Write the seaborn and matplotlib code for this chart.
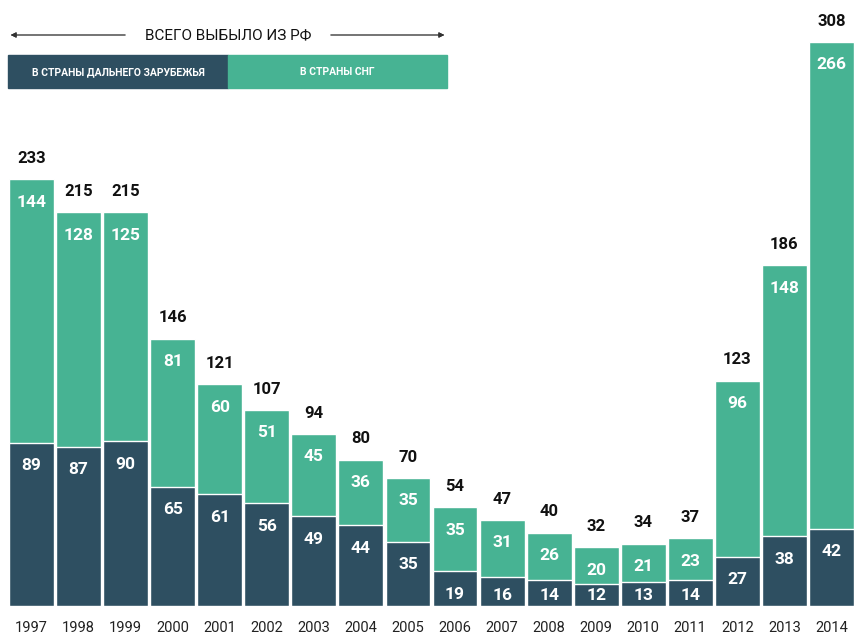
import seaborn as sns
import matplotlib.pyplot as plt
import pandas as pd
from matplotlib.patches import Rectangle

years = ['1997', '1998', '1999', '2000', '2001', '2002', '2003', '2004', '2005',
         '2006', '2007', '2008', '2009', '2010', '2011', '2012', '2013', '2014']
far_abroad = [89, 87, 90, 65, 61, 56, 49, 44, 35, 19, 16, 14, 12, 13, 14, 27, 38, 42]
cis = [144, 128, 125, 81, 60, 51, 45, 36, 35, 35, 31, 26, 20, 21, 23, 96, 148, 266]
totals = [233, 215, 215, 146, 121, 107, 94, 80, 70, 54, 47, 40, 32, 34, 37, 123, 186, 308]

dark = '#2e4f61'
green = '#47b393'

sns.set_theme(style='white')
plt.rcParams['font.family'] = ['Roboto', 'DejaVu Sans']

df = pd.DataFrame({'year': years, 'far': far_abroad, 'cis': cis, 'total': totals})
df['stack'] = df['far'] + df['cis']

fig = plt.figure(figsize=(8.55, 6.37), dpi=100)
ax = fig.add_axes([8 / 855, 31 / 637, 847 / 855, 606 / 637])

# stacked bars: full height in green, far-abroad part on top in dark
sns.barplot(data=df, x='year', y='stack', color=green, saturation=1, width=0.955, ax=ax)
sns.barplot(data=df, x='year', y='far', color=dark, saturation=1, width=0.955, ax=ax)

ax.set_xlim(-0.5, 17.5)
ax.set_ylim(0, 331)
sns.despine(ax=ax, left=True, bottom=True)
ax.set_yticks([])
ax.set_xlabel('')
ax.set_ylabel('')
ax.tick_params(axis='x', length=0, pad=11, labelsize=10.5, labelcolor='#222222')

for i, row in df.iterrows():
    ax.annotate(str(row['total']), (i, row['stack']), xytext=(0, 15), textcoords='offset points',
                ha='center', va='center', fontsize=12, fontweight='bold', color='#111111')
    # label of each segment, near its top
    y_far = max(row['far'] - 12.5, 5.5)
    ax.text(i, y_far, str(row['far']), ha='center', va='center',
            fontsize=12.5, fontweight='bold', color='white')
    y_cis = max(row['stack'] - 12.5, row['far'] + 5.5)
    ax.text(i, y_cis, str(row['cis']), ha='center', va='center',
            fontsize=12.5, fontweight='bold', color='white')

# legend bar at the top
fig.patches.append(Rectangle((8 / 855, (637 - 88) / 637), 220 / 855, 33 / 637,
                             transform=fig.transFigure, color=dark, zorder=5))
fig.patches.append(Rectangle((228 / 855, (637 - 88) / 637), 219 / 855, 33 / 637,
                             transform=fig.transFigure, color=green, zorder=5))
fig.text(118 / 855, (637 - 72) / 637, 'В СТРАНЫ ДАЛЬНЕГО ЗАРУБЕЖЬЯ', ha='center', va='center',
         fontsize=7.5, fontweight='bold', color='white', zorder=6)
fig.text(337 / 855, (637 - 72) / 637, 'В СТРАНЫ СНГ', ha='center', va='center',
         fontsize=7.5, fontweight='bold', color='white', zorder=6)

# arrow with title
ay = (637 - 35) / 637
fig.text(228 / 855, ay, 'ВСЕГО ВЫБЫЛО ИЗ РФ', ha='center', va='center',
         fontsize=11, color='#111111')
ax_arrow = dict(arrowstyle='-|>', color='#333333', lw=0.6, mutation_scale=8)
fig.add_artist(plt.annotate('', xy=(8 / 855, ay), xytext=(128 / 855, ay),
                            xycoords='figure fraction', arrowprops=ax_arrow))
fig.add_artist(plt.annotate('', xy=(447 / 855, ay), xytext=(328 / 855, ay),
                            xycoords='figure fraction', arrowprops=ax_arrow))

fig.savefig('out.png', dpi=100)
